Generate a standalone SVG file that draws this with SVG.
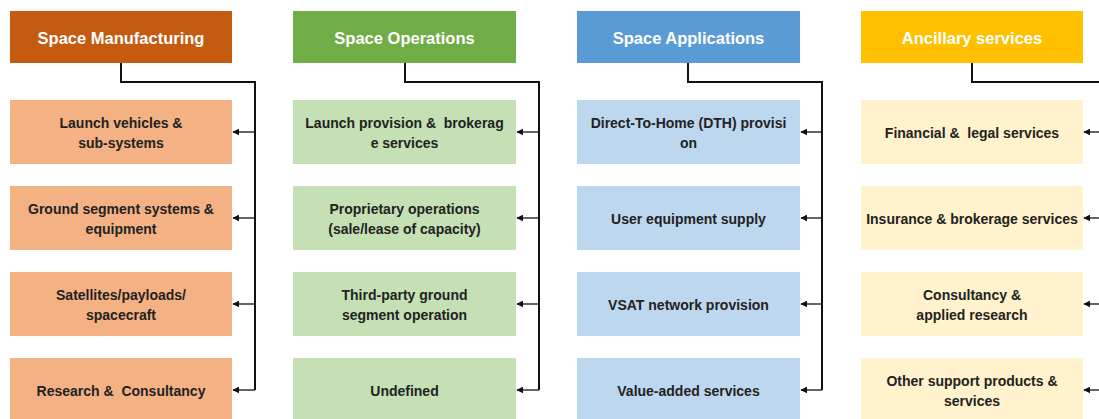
<svg xmlns="http://www.w3.org/2000/svg" width="1099" height="419" viewBox="0 0 1099 419">
<style>
.h{font-family:"Liberation Sans",Arial,sans-serif;font-weight:bold;font-size:16.5px;fill:#fff;text-anchor:middle}
.t{font-family:"Liberation Sans",Arial,sans-serif;font-weight:bold;font-size:14px;fill:#222;text-anchor:middle}
.c{fill:none;stroke:#111;stroke-width:2}
.a{fill:none;stroke:#111;stroke-width:1.3;marker-end:url(#ah)}
.o1{fill:#C55A11}.o2{fill:#F4B183}
.g1{fill:#70AD47}.g2{fill:#C5E0B4}
.b1{fill:#5B9BD5}.b2{fill:#BDD7EE}
.y1{fill:#FFC000}.y2{fill:#FFF2CC}
</style>
<defs>
<marker id="ah" viewBox="0 0 10 10" refX="9" refY="5" markerWidth="7" markerHeight="7" markerUnits="userSpaceOnUse" orient="auto">
<path d="M0,0 L10,5 L0,10 z" fill="#111"/>
</marker>
</defs>
<rect width="1099" height="419" fill="#fff"/>

<g id="manufacturing">
<rect class="o1" x="10" y="11" width="222" height="52"/>
<text class="h" x="121" y="44">Space Manufacturing</text>
</g>
<g id="m1"><rect class="o2" x="10" y="100" width="222" height="64"/>
<text class="t" x="121" y="128">Launch vehicles &amp;</text><text class="t" x="121" y="148">sub-systems</text></g>
<g id="m2"><rect class="o2" x="10" y="186" width="222" height="64"/>
<text class="t" x="121" y="214">Ground segment systems &amp;</text><text class="t" x="121" y="234">equipment</text></g>
<g id="m3"><rect class="o2" x="10" y="272" width="222" height="64"/>
<text class="t" x="121" y="300">Satellites/payloads/</text><text class="t" x="121" y="320">spacecraft</text></g>
<g id="m4"><rect class="o2" x="10" y="358" width="222" height="64"/>
<text class="t" x="121" y="396" xml:space="preserve">Research &amp;  Consultancy</text></g>

<g id="operations">
<rect class="g1" x="293" y="11" width="223" height="52"/>
<text class="h" x="404.5" y="44">Space Operations</text>
</g>
<g id="op1"><rect class="g2" x="293" y="100" width="223" height="64"/>
<text class="t" x="404.5" y="128" xml:space="preserve">Launch provision &amp;  brokerag</text><text class="t" x="404.5" y="148">e services</text></g>
<g id="op2"><rect class="g2" x="293" y="186" width="223" height="64"/>
<text class="t" x="404.5" y="214">Proprietary operations</text><text class="t" x="404.5" y="234">(sale/lease of capacity)</text></g>
<g id="op3"><rect class="g2" x="293" y="272" width="223" height="64"/>
<text class="t" x="404.5" y="300">Third-party ground</text><text class="t" x="404.5" y="320">segment operation</text></g>
<g id="op4"><rect class="g2" x="293" y="358" width="223" height="64"/>
<text class="t" x="404.5" y="396">Undefined</text></g>

<g id="applications">
<rect class="b1" x="577" y="11" width="223" height="52"/>
<text class="h" x="688.5" y="44">Space Applications</text>
</g>
<g id="ap1"><rect class="b2" x="577" y="100" width="223" height="64"/>
<text class="t" x="688.5" y="128">Direct-To-Home (DTH) provisi</text><text class="t" x="688.5" y="148">on</text></g>
<g id="ap2"><rect class="b2" x="577" y="186" width="223" height="64"/>
<text class="t" x="688.5" y="224">User equipment supply</text></g>
<g id="ap3"><rect class="b2" x="577" y="272" width="223" height="64"/>
<text class="t" x="688.5" y="310">VSAT network provision</text></g>
<g id="ap4"><rect class="b2" x="577" y="358" width="223" height="64"/>
<text class="t" x="688.5" y="396">Value-added services</text></g>

<g id="ancillary">
<rect class="y1" x="861" y="11" width="222" height="52"/>
<text class="h" x="972" y="44">Ancillary services</text>
</g>
<g id="an1"><rect class="y2" x="861" y="100" width="222" height="64"/>
<text class="t" x="972" y="138" xml:space="preserve">Financial &amp;  legal services</text></g>
<g id="an2"><rect class="y2" x="861" y="186" width="222" height="64"/>
<text class="t" x="972" y="224">Insurance &amp; brokerage services</text></g>
<g id="an3"><rect class="y2" x="861" y="272" width="222" height="64"/>
<text class="t" x="972" y="300">Consultancy &amp;</text><text class="t" x="972" y="320">applied research</text></g>
<g id="an4"><rect class="y2" x="861" y="358" width="222" height="64"/>
<text class="t" x="972" y="386">Other support products &amp;</text><text class="t" x="972" y="406">services</text></g>

<g id="connectors">
<path class="c" d="M121,63 V82 H255 V390"/>
<path class="a" d="M255,132 H233"/><path class="a" d="M255,218 H233"/><path class="a" d="M255,304 H233"/><path class="a" d="M255,390 H233"/>
<path class="c" d="M405,63 V82 H539 V390"/>
<path class="a" d="M539,132 H517"/><path class="a" d="M539,218 H517"/><path class="a" d="M539,304 H517"/><path class="a" d="M539,390 H517"/>
<path class="c" d="M688,63 V82 H822 V390"/>
<path class="a" d="M822,132 H801"/><path class="a" d="M822,218 H801"/><path class="a" d="M822,304 H801"/><path class="a" d="M822,390 H801"/>
<path class="c" d="M972,63 V82 H1106 V390"/>
<path class="a" d="M1106,132 H1084"/><path class="a" d="M1106,218 H1084"/><path class="a" d="M1106,304 H1084"/><path class="a" d="M1106,390 H1084"/>
</g>
</svg>
